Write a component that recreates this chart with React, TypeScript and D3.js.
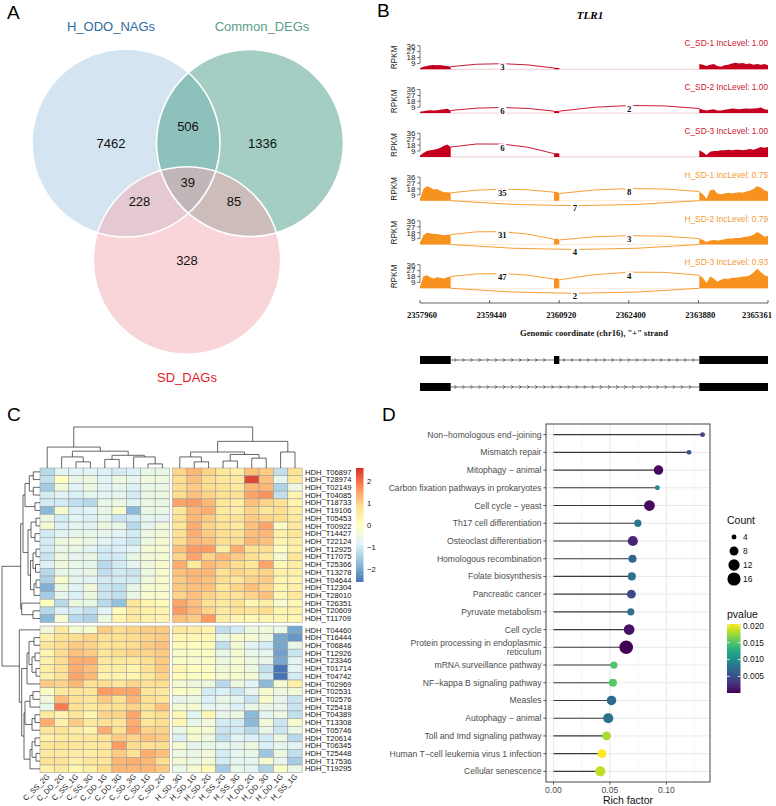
import * as d3 from "d3";

const W = 776;
const H = 806;
const SANS = "'Liberation Sans', Arial, Helvetica, sans-serif";
const SERIF = "'Liberation Serif', 'Times New Roman', serif";

// ---------------- A: Venn ----------------
const vennSets = ["H_ODO_NAGs", "Common_DEGs", "SD_DAGs"];
const vennRegionKeys = ["A", "B", "C", "AB", "AC", "BC", "ABC"];
const vennRegionCounts = [7462, 1336, 328, 506, 228, 85, 39];
const vennFill = ["#a9cce3", "#4a9d88", "#f4acb3"];
const vennText = ["#2d6b9e", "#5a9e8a", "#e6161f"];

// ---------------- B: sashimi ----------------
const geneName = "TLR1";
const chrom = "chr16";
const exons = [
  [2357960, 2358613],
  [2360810, 2360923],
  [2363900, 2365361],
];
const coordTicks = [2357960, 2359440, 2360920, 2362400, 2363880, 2365361];
const rpkmTicks = [9, 18, 27, 36];
const samples = ["C_SD-1", "C_SD-2", "C_SD-3", "H_SD-1", "H_SD-2", "H_SD-3"];
const incLevel = [1.0, 1.0, 1.0, 0.75, 0.79, 0.93];
const exon1Cov = [
  [2, 4, 5, 6, 6.5, 6, 6.5, 5.5, 5, 4],
  [2, 3, 4, 4.5, 4, 4.5, 5, 6, 6.5, 4],
  [2, 6, 9, 10, 11, 12, 14, 17, 19, 15],
  [3, 18, 22, 20, 17, 18, 15, 13, 13, 12],
  [3, 14, 18, 17, 16, 16, 15, 14, 15, 15],
  [3, 18, 20, 17, 15, 17, 16, 15, 17, 18],
];
const exon2Cov = [
  [2, 2.5, 2],
  [3, 3.5, 3],
  [5, 6, 5],
  [13, 14, 11],
  [8, 9, 7],
  [14, 16, 13],
];
const exon3Cov = [
  [8, 7, 5, 7, 8, 5, 4, 6, 7, 9, 10, 9, 9.5, 8, 9, 7, 8, 7, 8, 6],
  [7, 5, 4, 5, 6, 4, 4, 5, 6, 7, 6.5, 6, 6.5, 7, 6.5, 7, 7.5, 8.5, 6, 5],
  [10, 7, 3, 8, 9, 9, 10, 10, 11, 10, 11, 11, 10, 11, 12, 11, 13, 15, 14, 15],
  [14, 10, 3, 16, 17, 11, 10, 11, 12, 11, 12, 13, 12, 14, 15, 18, 22, 20, 16, 14],
  [9, 7, 4, 6, 7, 6, 7, 8, 9, 9, 10, 10, 11, 12, 13, 15, 19, 16, 12, 13],
  [20, 16, 8, 18, 15, 10, 13, 15, 14, 16, 16, 17, 18, 18, 20, 24, 30, 25, 20, 18],
];
// junction read counts: exon1->exon2, exon2->exon3, exon1->exon3 (skipping)
const junc12 = [3, 6, 6, 35, 31, 47];
const junc23 = [null, 2, null, 8, 3, 4];
const junc13 = [null, null, null, 7, 4, 2];
const isoforms = [
  [0, 1, 2],
  [0, 2],
];

// ---------------- C: heatmap ----------------
const colNames = [
  "C_SS_2G", "C_DD_2G", "C_SS_1G", "C_SS_3G", "C_DD_1G", "C_DD_3G", "C_SD_3G", "C_SD_1G", "C_SD_2G",
  "H_SD_3G", "H_SD_1G", "H_SD_2G", "H_SS_2G", "H_SS_3G", "H_DD_2G", "H_DD_3G", "H_DD_1G", "H_SS_1G",
];
const rowNames = [
  "HDH_T06897", "HDH_T28974", "HDH_T02149", "HDH_T04085", "HDH_T18733", "HDH_T19106", "HDH_T05453",
  "HDH_T00922", "HDH_T14427", "HDH_T22124", "HDH_T12925", "HDH_T17075", "HDH_T25366", "HDH_T13278",
  "HDH_T04644", "HDH_T12304", "HDH_T28010", "HDH_T26351", "HDH_T20609", "HDH_T11709",
  "HDH_T04460", "HDH_T16444", "HDH_T06846", "HDH_T12926", "HDH_T23346", "HDH_T01714", "HDH_T04742",
  "HDH_T02969", "HDH_T02531", "HDH_T02576", "HDH_T25418", "HDH_T04389", "HDH_T13308", "HDH_T05746",
  "HDH_T20614", "HDH_T06345", "HDH_T25448", "HDH_T17536", "HDH_T19295",
];
const zScores = [
  [-1.3, -0.8, -0.8, -0.8, -0.9, -1.0, -0.9, -0.6, -0.6, 1.0, 1.3, 1.0, 0.7, 0.5, 1.2, 1.1, -1.2, 0.8],
  [-1.2, 0.0, -0.6, -0.5, -0.8, -0.5, -0.7, -0.4, -0.5, 0.9, 1.2, 0.9, 0.7, 0.6, 2.4, 1.2, -0.7, 0.6],
  [-1.5, -0.4, -0.8, -0.5, -0.8, -0.7, -0.9, -0.6, -0.6, 0.9, 1.1, 0.9, 0.8, 0.6, 1.3, 1.3, -1.4, -0.5],
  [-1.0, -0.8, -0.9, -0.7, -0.8, -0.7, -1.0, -0.6, -0.5, 0.9, 1.2, 1.0, 0.8, 0.8, 1.5, 1.7, -1.2, 0.3],
  [-1.0, -1.0, -1.2, -1.3, -0.6, -0.5, -0.8, -0.5, -0.6, 1.5, 1.6, 1.3, 0.7, 0.5, 1.2, 1.0, 0.8, 0.3],
  [-1.8, -0.2, -0.9, -0.8, -0.6, -0.2, -1.8, -0.6, -0.6, 0.7, 1.3, 1.4, 0.6, 0.5, 1.0, 0.7, 0.9, 0.5],
  [-0.6, -1.0, -0.8, -0.9, -0.7, -1.1, -1.0, -0.7, -0.8, 0.8, 1.3, 1.1, 0.7, 0.8, 1.1, 1.0, 0.9, 0.6],
  [-0.3, -0.9, -0.7, -0.8, -0.5, -0.6, -1.3, -0.7, -0.4, 0.7, 1.4, 1.0, 0.8, 0.6, 1.2, 1.5, -0.1, 0.6],
  [-1.0, -0.8, -0.7, -0.6, -0.7, -0.8, -1.0, -0.5, -0.4, 0.8, 1.4, 1.1, 0.9, 0.8, 1.2, 1.3, 0.4, 0.7],
  [-1.0, -0.5, -0.4, -0.6, -0.8, -0.9, -1.1, -0.5, -0.3, 0.9, 1.3, 1.2, 0.9, 0.9, 1.3, 1.2, 0.3, 0.5],
  [-1.0, -0.6, -0.6, -0.8, -1.0, -0.9, -0.8, -0.3, -0.3, 1.2, 1.6, 1.6, 0.5, 1.4, 0.8, 0.9, 0.0, 0.4],
  [-1.1, -0.5, -0.7, -0.6, -1.0, -1.0, -0.6, -0.4, -0.3, 1.0, 1.5, 1.0, 1.3, 1.1, 0.9, 0.6, -0.3, 0.7],
  [-0.9, -0.4, -0.6, -0.7, -1.3, -1.0, -0.7, -0.4, -0.2, 1.4, 0.6, 1.3, 1.1, 0.9, 0.7, 1.5, 0.2, 0.5],
  [-1.3, -0.6, -0.7, -0.6, -1.2, -1.0, -1.1, -0.5, -0.2, 1.2, 1.3, 1.3, 0.8, 1.0, 0.9, 1.0, 0.4, 0.4],
  [-1.4, -0.2, -0.7, -0.8, -1.0, -1.0, -1.0, -0.4, -0.2, 1.1, 1.3, 1.2, 0.9, 0.7, 1.0, 1.1, 0.3, 0.3],
  [-1.9, -0.5, -0.8, -0.4, -1.1, -1.2, -0.6, -0.3, -0.2, 1.1, 1.2, 1.2, 0.7, 1.0, 1.2, 1.0, 0.3, 0.4],
  [-1.5, -0.7, -0.9, -0.5, -1.1, -1.2, -0.6, -0.2, -0.2, 1.0, 1.2, 1.0, 0.8, 0.8, 1.0, 1.2, 0.2, 0.6],
  [0.0, -1.3, -0.5, -0.6, -1.3, -1.7, 0.7, 0.3, 0.1, 1.5, 1.2, 0.8, 0.6, 0.8, 0.2, 0.5, -0.2, 0.2],
  [-1.3, -0.9, -1.0, -1.2, -0.8, 0.1, 0.6, 0.4, 0.3, 1.6, 1.3, 1.0, 0.6, 0.8, 0.7, 0.9, 0.3, 0.4],
  [-1.8, -0.3, -1.3, -1.4, -0.5, 0.3, 0.6, 0.4, 0.3, 1.2, 1.1, 1.6, 0.5, 0.3, 0.2, 0.3, 0.2, 0.2],
  [-0.4, 0.6, -0.3, -0.2, 1.1, 0.9, 1.0, 1.1, 1.1, 0.6, 0.5, 0.3, -1.2, -1.0, -0.5, -0.4, -0.6, -2.0],
  [0.4, 0.8, 0.9, 1.0, 0.8, 0.8, 0.9, 1.0, 1.1, 0.2, 0.2, 0.2, -0.6, -0.2, -0.3, -0.5, -2.0, -2.2],
  [0.7, 0.9, 1.1, 1.0, 0.8, 0.8, 0.9, 1.1, 1.2, 0.1, 0.0, 0.1, -1.2, -0.3, -0.8, -1.0, -2.0, -0.6],
  [0.3, 0.9, 1.2, 1.1, 0.7, 0.9, 1.0, 1.0, 1.1, -0.2, -0.1, -0.1, -0.6, -0.3, -0.6, -0.7, -2.1, -1.1],
  [0.4, 0.9, 1.4, 1.4, 0.6, 0.6, 0.6, 0.9, 1.1, -0.1, -0.2, -0.1, -0.5, -0.3, -0.5, -0.6, -2.0, -0.8],
  [0.5, 0.8, 1.4, 1.2, 0.5, 0.5, 0.3, 0.8, 1.1, 0.2, 0.0, -0.1, -0.4, -0.3, -0.5, -1.2, -2.6, -0.8],
  [0.4, 0.8, 1.5, 1.3, 0.3, 0.3, 0.3, 0.6, 1.0, 0.1, -0.1, 0.0, -0.3, -0.2, -0.3, -1.0, -2.8, -1.0],
  [1.1, 1.0, 1.3, 0.8, 0.9, 0.7, 1.0, 0.8, 0.9, -0.3, -0.5, -0.5, -1.3, -0.5, -0.8, -1.8, -0.3, 0.4],
  [-0.1, 0.6, 0.7, 0.7, 1.6, 1.5, 1.5, 0.7, 0.6, -0.1, -0.2, -1.0, -0.9, -1.1, -0.7, -0.2, -0.5, -0.4],
  [-0.4, 1.2, 0.8, 0.7, 1.1, 0.8, 1.3, 0.8, 0.7, -0.7, -0.5, -0.9, -0.6, -0.7, -1.1, -0.2, -0.7, -1.1],
  [-0.6, 1.9, 0.8, 0.6, 0.8, 0.8, 1.0, 0.8, 1.2, -0.3, -0.3, -0.7, -0.7, -0.9, -0.6, -0.6, -0.7, -1.1],
  [0.6, 0.3, 0.7, 0.3, 1.0, 1.0, 1.5, 0.7, 0.9, 0.2, -0.8, 0.2, -0.7, -0.5, -1.8, -0.7, -0.5, -1.2],
  [1.4, 0.4, 1.1, 0.6, 0.8, 0.7, 1.4, 0.7, 0.9, 0.2, -0.6, -0.4, -1.0, -1.0, -1.8, -0.4, -1.1, -0.2],
  [0.7, 0.8, 0.5, 0.3, 1.4, 0.8, 1.5, 1.0, 1.0, -0.6, -0.2, -0.3, -1.1, -1.0, -1.3, -0.6, -1.1, -0.6],
  [0.4, 0.6, 0.6, 0.7, 0.8, 1.1, 1.0, 1.2, 1.1, -0.9, -0.2, -0.5, -1.2, -0.8, -0.9, -1.0, -0.5, -1.3],
  [0.7, 0.8, 0.7, 0.6, 0.7, 1.6, 0.9, 0.8, 0.9, -0.3, -0.7, -0.6, -0.7, -0.7, -0.5, -0.9, -0.7, -0.8],
  [0.6, 0.6, 0.5, 0.5, 0.7, 1.1, 0.8, 1.4, 1.2, -0.5, -0.6, -0.4, -1.0, -0.7, -0.6, -1.6, -0.5, -1.2],
  [0.8, 0.8, 0.4, 0.7, 0.7, 1.3, 1.4, 1.3, 0.9, -0.3, -0.5, -0.3, -1.0, -0.7, -0.7, -0.3, -0.7, -1.5],
  [0.4, 0.6, 0.3, 0.5, 0.9, 1.3, 1.3, 1.3, 1.1, -0.6, -0.3, 0.1, -1.5, -0.6, -0.8, -1.4, -0.1, -0.6],
];
// dendrograms: [height, left, right], leaves are indices
const colTree = [10, [5.1, 0, [4.1, [2.7, 1, [1.5, 2, 3]], [3.1, [2.1, 4, 5], [2.7, 6, [1.0, 7, 8]]]]],
  [6.5, [3.9, [2.7, 9, [1.5, 10, 11]], [3.3, [1.7, 12, 13], [2.4, 14, 15]]], [3.9, 16, 17]]];
const rowTreeTop = [19.3,
  [17, [15, [10.7, [6.7, 0, 1], [6.7, 2, 3]], [5, 4, 5]],
    [12, [9, [4, 6, 7], [5, 8, 9]], [9.5, [7, [4, 10, 11], [4.5, 12, 13]], [6, [4, 14, 15], 16]]]],
  [18.3, 17, [7, 18, 19]]];
const rowTreeBottom = [20.7, 20,
  [18.3, [13, [11, [6, 21, 22], [8, [5, 23, 24], [4, 25, 26]]], 27],
    [16, [15, [10, [7, 28, 29], 30], [8, [5, 31, 32], 33]], [10, [8, [5, 34, 35], [4, 36, 37]], 38]]]];
const rowTree = [38, rowTreeTop, rowTreeBottom];
const legendTicks = [2, 1, 0, -1, -2];
const heatPalette = ["#4575B4", "#91BFDB", "#E0F3F8", "#FFFFBF", "#FEE090", "#FC8D59", "#D73027"];

// ---------------- D: enrichment lollipop ----------------
const pathways = [
  "Non\u2212homologous end\u2212joining",
  "Mismatch repair",
  "Mitophagy \u2212 animal",
  "Carbon fixation pathways in prokaryotes",
  "Cell cycle \u2212 yeast",
  "Th17 cell differentiation",
  "Osteoclast differentiation",
  "Homologous recombination",
  "Folate biosynthesis",
  "Pancreatic cancer",
  "Pyruvate metabolism",
  "Cell cycle",
  "Protein processing in endoplasmic\nreticulum",
  "mRNA surveillance pathway",
  "NF\u2212kappa B signaling pathway",
  "Measles",
  "Autophagy \u2212 animal",
  "Toll and Imd signaling pathway",
  "Human T\u2212cell leukemia virus 1 infection",
  "Cellular senescence",
];
const richFactor = [0.132, 0.12, 0.093, 0.092, 0.085, 0.0747, 0.0703, 0.07, 0.0694, 0.069, 0.0685,
  0.067, 0.0644, 0.0535, 0.0526, 0.0514, 0.0485, 0.047, 0.043, 0.0415];
const counts = [4, 4, 9, 4, 11, 6, 10, 7, 7, 8, 6, 11, 17, 6, 7, 9, 10, 8, 8, 10];
const pvalues = [0.0042, 0.0055, 0.0005, 0.0099, 0.0007, 0.0083, 0.0021, 0.0068, 0.0076, 0.0046, 0.0076,
  0.0011, 0.0001, 0.0148, 0.0152, 0.007, 0.0078, 0.0178, 0.0205, 0.0185];
const countBreaks = [4, 8, 12, 16];
const pBreaks = [0.02, 0.015, 0.01, 0.005];
const richTicks = [0, 0.05, 0.1];

function PanelLabels() {
  const labels = [["A", 7, 19], ["B", 377, 17], ["C", 7, 421], ["D", 382, 421]];
  return (
    <g fontFamily={SANS} fontSize={19}>
      {labels.map(([t, x, y]) => <text key={t} x={x} y={y}>{t}</text>)}
    </g>
  );
}

function VennPanel() {
  const circles = [
    { x: 126, y: 143, r: 94 },
    { x: 250, y: 143, r: 93.5 },
    { x: 187, y: 260.5, r: 93.7 },
  ];
  const [a, b, c] = circles;
  const pos = {
    A: [a.x - 15, a.y],
    B: [b.x + 12.5, b.y],
    C: [c.x, c.y],
    AB: [(a.x + b.x) / 2, a.y - 17],
    AC: [(a.x + c.x) / 2 - 17, (a.y + c.y) / 2],
    BC: [(b.x + c.x) / 2 + 15.5, (b.y + c.y) / 2],
    ABC: [(a.x + b.x + c.x) / 3, (a.y + b.y + c.y) / 3],
  };
  const setLabelPos = [[a.x - 15, 31], [b.x + 12, 31], [c.x, 382]];
  return (
    <g fontFamily={SANS}>
      {circles.map((ci, i) => (
        <circle key={i} cx={ci.x} cy={ci.y} r={ci.r} fill={vennFill[i]} fillOpacity={0.5} />
      ))}
      {circles.map((ci, i) => (
        <circle key={"s" + i} cx={ci.x} cy={ci.y} r={ci.r} fill="none" stroke="#fff" strokeWidth={1.6} />
      ))}
      {vennRegionKeys.map((k, i) => (
        <text key={k} x={pos[k][0]} y={pos[k][1]} dy="0.36em" textAnchor="middle" fontSize={13} fill="#111">
          {vennRegionCounts[i]}
        </text>
      ))}
      {vennSets.map((s, i) => (
        <text key={s} x={setLabelPos[i][0]} y={setLabelPos[i][1]} textAnchor="middle" fontSize={13} fill={vennText[i]}>
          {s}
        </text>
      ))}
    </g>
  );
}

function SashimiPanel() {
  const x = d3.scaleLinear().domain([coordTicks[0], coordTicks[coordTicks.length - 1]]).range([420, 768]);
  const base0 = 69.3;
  const step = 43.8;
  const th = 23.6;
  const arc = (x0, y0, x1, y1, peak) => {
    const yc = 2 * peak - (y0 + y1) / 2;
    return `M${x0},${y0}Q${(x0 + x1) / 2},${yc} ${x1},${y1}`;
  };
  const label = (key, cx, cy, n) => (
    <g key={key}>
      <rect x={cx - String(n).length * 2.4 - 1.5} y={cy - 4} width={String(n).length * 4.8 + 3} height={8} fill="#fff" />
      <text x={cx} y={cy} dy="0.35em" textAnchor="middle" fontFamily={SERIF} fontWeight="bold" fontSize={8.8} fill="#111">{n}</text>
    </g>
  );
  const axisY = 303;
  const modelY = [360, 387];
  const nT = coordTicks.length;
  return (
    <g>
      <text x={590} y={19} textAnchor="middle" fontFamily={SERIF} fontStyle="italic" fontWeight="bold" fontSize={11}>
        {geneName}
      </text>
      {samples.map((s, i) => {
        const base = base0 + i * step;
        const y = d3.scaleLinear().domain([0, 36]).range([base, base - th]);
        const isC = s.startsWith("C");
        const col = isC ? "#c4001e" : "#f7921e";
        const txtCol = isC ? "#cc1530" : "#f39a30";
        const covs = [exon1Cov[i], exon2Cov[i], exon3Cov[i]];
        const area = d3.area().x((d) => x(d[0])).y0(base).y1((d) => y(d[1]));
        const paths = covs.map((vals, k) => {
          const [s0, e0] = exons[k];
          return area(vals.map((v, j) => [s0 + ((e0 - s0) * j) / (vals.length - 1), v]));
        });
        const e1 = exon1Cov[i], e2 = exon2Cov[i], e3 = exon3Cov[i];
        const items = [];
        if (junc12[i] != null) {
          const x0 = x(exons[0][1]), y0 = y(e1[e1.length - 1]), x1 = x(exons[1][0]), y1 = y(e2[0]);
          const pk = Math.min(y0, y1) - 3;
          items.push(<path key="a1" d={arc(x0, y0, x1, y1, pk)} fill="none" stroke={col} strokeWidth={0.9} />);
          items.push(label("l1", (x0 + x1) / 2, pk + 3.5, junc12[i]));
        }
        if (junc23[i] != null) {
          const x0 = x(exons[1][1]), y0 = y(e2[e2.length - 1]), x1 = x(exons[2][0]), y1 = y(e3[0]);
          const pk = Math.min(y0, y1) - 3;
          items.push(<path key="a2" d={arc(x0, y0, x1, y1, pk)} fill="none" stroke={col} strokeWidth={0.9} />);
          items.push(label("l2", (x0 + x1) / 2, pk + 3.5, junc23[i]));
        }
        if (junc13[i] != null) {
          const x0 = x(exons[0][1]), x1 = x(exons[2][0]);
          const pk = base + 5;
          items.push(<path key="a3" d={arc(x0, base, x1, base, pk)} fill="none" stroke={col} strokeWidth={0.9} />);
          items.push(label("l3", (x0 + x1) / 2, pk + 2.5, junc13[i]));
        }
        return (
          <g key={s}>
            {paths.map((p, k) => <path key={k} d={p} fill={col} />)}
            <line x1={x(exons[0][0])} x2={x(exons[2][1])} y1={base} y2={base} stroke={col} strokeWidth={0.4} strokeOpacity={0.5} />
            {items}
            <line x1={420} x2={420} y1={y(9)} y2={y(36)} stroke="#222" strokeWidth={0.6} />
            {rpkmTicks.map((t) => (
              <g key={t}>
                <line x1={417} x2={420} y1={y(t)} y2={y(t)} stroke="#222" strokeWidth={0.6} />
                <text x={415.5} y={y(t)} dy="0.35em" textAnchor="end" fontFamily={SANS} fontSize={8} fill="#222">{t}</text>
              </g>
            ))}
            <text transform={`translate(394,${base - th / 2}) rotate(-90)`} textAnchor="middle" dy="0.35em" fontFamily={SANS} fontSize={8.2} fill="#222">
              RPKM
            </text>
            <text x={768} y={base - 23} textAnchor="end" fontFamily={SANS} fontSize={8.3} fill={txtCol}>
              {`${s} IncLevel: ${incLevel[i].toFixed(2)}`}
            </text>
          </g>
        );
      })}
      <line x1={x(coordTicks[0])} x2={x(coordTicks[nT - 1])} y1={axisY} y2={axisY} stroke="#222" strokeWidth={0.7} />
      {coordTicks.map((t, k) => (
        <g key={t}>
          <line x1={x(t)} x2={x(t)} y1={axisY - 3} y2={axisY} stroke="#222" strokeWidth={0.7} />
          <text x={k === nT - 1 ? 772 : x(t) + 2} y={318} textAnchor={k === nT - 1 ? "end" : "middle"} fontFamily={SERIF} fontWeight="bold" fontSize={8.6} fill="#111">{t}</text>
        </g>
      ))}
      <text x={594} y={336} textAnchor="middle" fontFamily={SERIF} fontWeight="bold" fontSize={8.6} fill="#111">
        {`Genomic coordinate (${chrom}), "+" strand`}
      </text>
      {isoforms.map((iso, r) => {
        const yc = modelY[r];
        const introns = iso.slice(1).map((ex, k) => [exons[iso[k]][1], exons[ex][0]]);
        return (
          <g key={r}>
            {introns.map(([s0, e0], k) => (
              <g key={k}>
                <line x1={x(s0)} x2={x(e0)} y1={yc} y2={yc} stroke="#111" strokeWidth={0.6} />
                {d3.range(s0 + 110, e0 - 60, 172).map((p) => (
                  <path key={p} d={`M${x(p) - 1.4},${yc - 1.8}L${x(p) + 0.4},${yc}L${x(p) - 1.4},${yc + 1.8}`} fill="none" stroke="#111" strokeWidth={0.6} />
                ))}
              </g>
            ))}
            {iso.map((ex) => (
              <rect key={ex} x={x(exons[ex][0])} width={x(exons[ex][1]) - x(exons[ex][0])} y={yc - 4} height={8} fill="#000" />
            ))}
          </g>
        );
      })}
    </g>
  );
}

function HeatmapPanel() {
  const xL = d3.scaleBand().domain(colNames.slice(0, 9)).range([40, 169.6]);
  const xR = d3.scaleBand().domain(colNames.slice(9)).range([172.6, 302.2]);
  const yT = d3.scaleBand().domain(rowNames.slice(0, 20)).range([468, 622.4]);
  const yB = d3.scaleBand().domain(rowNames.slice(20)).range([626, 772.7]);
  const cx = (j) => (j < 9 ? xL(colNames[j]) : xR(colNames[j]));
  const cy = (i) => (i < 20 ? yT(rowNames[i]) : yB(rowNames[i]));
  const cw = xL.bandwidth();
  const ch = yT.bandwidth();
  const lo = -2.6, hi = 2.62;
  const color = d3.scaleLinear().domain(heatPalette.map((_, k) => lo + (k * (hi - lo)) / 6)).range(heatPalette).clamp(true);

  const colH = d3.scaleLinear().domain([0, 10]).range([468, 427]);
  const rowH = d3.scaleLinear().domain([0, 38]).range([40, 2]);
  const lines = [];
  const walk = (node, leafPos, hScale, horizontal, out) => {
    if (typeof node === "number") return { p: leafPos(node), h: 0 };
    const [h, l, r] = node;
    const a = walk(l, leafPos, hScale, horizontal, out);
    const b = walk(r, leafPos, hScale, horizontal, out);
    if (horizontal) {
      out.push([a.p, hScale(h), b.p, hScale(h)]);
      out.push([a.p, hScale(h), a.p, hScale(a.h)]);
      out.push([b.p, hScale(h), b.p, hScale(b.h)]);
    } else {
      out.push([hScale(h), a.p, hScale(h), b.p]);
      out.push([hScale(h), a.p, hScale(a.h), a.p]);
      out.push([hScale(h), b.p, hScale(b.h), b.p]);
    }
    return { p: (a.p + b.p) / 2, h };
  };
  walk(colTree, (j) => cx(j) + cw / 2, colH, true, lines);
  walk(rowTree, (i) => cy(i) + ch / 2, rowH, false, lines);

  const barY = d3.scaleLinear().domain([lo, hi]).range([582, 468]);
  return (
    <g fontFamily={SANS}>
      <defs>
        <linearGradient id="heatGrad" x1="0" y1="1" x2="0" y2="0">
          {heatPalette.map((c, k) => <stop key={k} offset={k / 6} stopColor={c} />)}
        </linearGradient>
      </defs>
      {zScores.map((row, i) =>
        row.map((v, j) => (
          <rect key={i + "-" + j} x={cx(j)} y={cy(i)} width={cw} height={ch} fill={color(v)} stroke="#9c9c9c" strokeWidth={0.55} />
        ))
      )}
      {lines.map((l, k) => (
        <line key={k} x1={l[0]} y1={l[1]} x2={l[2]} y2={l[3]} stroke="#333" strokeWidth={0.75} />
      ))}
      {rowNames.map((r, i) => (
        <text key={r} x={305} y={cy(i) + ch / 2} dy="0.35em" fontSize={7.6} fill="#111">{r}</text>
      ))}
      {colNames.map((c, j) => (
        <text key={c} transform={`translate(${cx(j) + cw / 2 + 3},${777}) rotate(-45)`} textAnchor="end" fontSize={7.6} fill="#111">
          {c}
        </text>
      ))}
      <rect x={356} y={468} width={7.5} height={114} fill="url(#heatGrad)" />
      {legendTicks.map((t) => (
        <text key={t} x={367} y={barY(t)} dy="0.35em" fontSize={7.6} fill="#111">
          {t < 0 ? "\u2212" + Math.abs(t) : t}
        </text>
      ))}
    </g>
  );
}

function LollipopPanel() {
  const left = 546, right = 710, top = 424, bottom = 782;
  const maxR = d3.max(richFactor);
  const pad = maxR * 0.05;
  const x = d3.scaleLinear().domain([-pad, maxR + pad]).range([left, right]);
  const y = d3.scalePoint().domain(pathways).range([top, bottom]).padding(0.6);
  const pMin = d3.min(pvalues), pMax = d3.max(pvalues);
  const color = d3.scaleSequential(d3.interpolateViridis).domain([pMin, pMax]);
  const rNorm = d3.scaleLinear().domain([3, 17]).range([0, 1]);
  const rOut = d3.scaleLinear().domain([0, 1]).range([0.9, 6.8]);
  const rad = (c) => rOut(Math.sqrt(rNorm(c)));
  const minor = richTicks.map((t) => t + 0.025).filter((t) => t < maxR + pad);
  const barY = d3.scaleLinear().domain([pMin, pMax]).range([693, 624]);
  const stops = d3.range(0, 1.0001, 0.1);
  return (
    <g fontFamily={SANS}>
      <rect x={left} y={top} width={right - left} height={bottom - top} fill="#fff" />
      {minor.map((t) => <line key={"m" + t} x1={x(t)} x2={x(t)} y1={top} y2={bottom} stroke="#f0f0f0" strokeWidth={0.5} />)}
      {richTicks.map((t) => <line key={"M" + t} x1={x(t)} x2={x(t)} y1={top} y2={bottom} stroke="#e6e6e6" strokeWidth={0.9} />)}
      {pathways.map((p) => <line key={"h" + p} x1={left} x2={right} y1={y(p)} y2={y(p)} stroke="#e6e6e6" strokeWidth={0.9} />)}
      {pathways.map((p, i) => (
        <line key={"s" + p} x1={x(0)} x2={x(richFactor[i])} y1={y(p)} y2={y(p)} stroke="#3a3a3a" strokeWidth={1.1} />
      ))}
      {pathways.map((p, i) => (
        <circle key={"c" + p} cx={x(richFactor[i])} cy={y(p)} r={rad(counts[i])} fill={color(pvalues[i])} />
      ))}
      <rect x={left} y={top} width={right - left} height={bottom - top} fill="none" stroke="#333" strokeWidth={0.9} />
      {pathways.map((p) => {
        const parts = p.split("\n");
        return (
          <g key={"l" + p}>
            <line x1={left - 2.7} x2={left} y1={y(p)} y2={y(p)} stroke="#333" strokeWidth={0.8} />
            <text x={left - 4.5} y={y(p) - (parts.length - 1) * 4.8} textAnchor="end" fontSize={8.6} fill="#4d4d4d">
              {parts.map((s, k) => (
                <tspan key={k} x={left - 4.5} dy={k === 0 ? "0.35em" : "1.15em"}>{s}</tspan>
              ))}
            </text>
          </g>
        );
      })}
      {richTicks.map((t) => (
        <g key={"t" + t}>
          <line x1={x(t)} x2={x(t)} y1={bottom} y2={bottom + 2.7} stroke="#333" strokeWidth={0.8} />
          <text x={x(t)} y={bottom + 11} textAnchor="middle" fontSize={8.6} fill="#4d4d4d">{t.toFixed(2)}</text>
        </g>
      ))}
      <text x={(left + right) / 2} y={804} textAnchor="middle" fontSize={10.5} fill="#111">Rich factor</text>

      <text x={727} y={524} fontSize={10.5} fill="#111">Count</text>
      {countBreaks.map((c, k) => (
        <g key={"k" + c}>
          <circle cx={734} cy={537 + k * 14} r={rad(c)} fill="#000" />
          <text x={743} y={537 + k * 14} dy="0.35em" fontSize={8.4} fill="#111">{c}</text>
        </g>
      ))}
      <text x={727} y={618} fontSize={10.5} fill="#111">pvalue</text>
      <defs>
        <linearGradient id="viridisGrad" x1="0" y1="1" x2="0" y2="0">
          {stops.map((s) => <stop key={s} offset={s} stopColor={d3.interpolateViridis(s)} />)}
        </linearGradient>
      </defs>
      <rect x={727} y={624} width={13.5} height={69} fill="url(#viridisGrad)" />
      {pBreaks.map((b) => (
        <g key={"p" + b}>
          <line x1={727} x2={729.7} y1={barY(b)} y2={barY(b)} stroke="#fff" strokeWidth={0.8} />
          <line x1={737.8} x2={740.5} y1={barY(b)} y2={barY(b)} stroke="#fff" strokeWidth={0.8} />
          <text x={743} y={barY(b)} dy="0.35em" fontSize={8.4} fill="#111">{b.toFixed(3)}</text>
        </g>
      ))}
    </g>
  );
}

export default function App() {
  return (
    <svg width={W} height={H} style={{ position: "absolute", left: 0, top: 0, background: "#fff" }} fontFamily={SANS}>
      <rect width={W} height={H} fill="#fff" />
      <VennPanel />
      <SashimiPanel />
      <HeatmapPanel />
      <LollipopPanel />
      <PanelLabels />
    </svg>
  );
}
